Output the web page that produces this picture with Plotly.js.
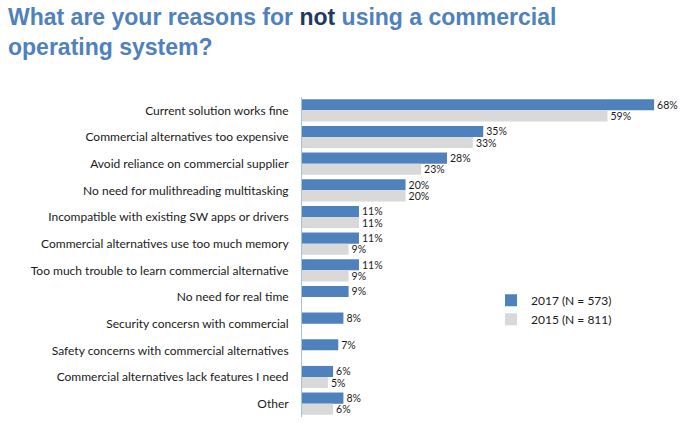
<!DOCTYPE html>
<html>
<head>
<meta charset="utf-8">
<script src="https://cdn.plot.ly/plotly-3.0.1.min.js"></script>
<style>html,body{margin:0;padding:0;background:#fff;}#chart{width:688px;height:428px;}</style>
</head>
<body>
<div id="chart"></div>
<script>
const categories = [
  "Current solution works fine",
  "Commercial alternatives too expensive",
  "Avoid reliance on commercial supplier",
  "No need for mulithreading multitasking",
  "Incompatible with existing SW apps or drivers",
  "Commercial alternatives use too much memory",
  "Too much trouble to learn commercial alternative",
  "No need for real time",
  "Security concersn with commercial",
  "Safety concerns with commercial alternatives",
  "Commercial alternatives lack features I need",
  "Other"
];
const values2017 = [68, 35, 28, 20, 11, 11, 11, 9, 8, 7, 6, 8];
const values2015 = [59, 33, 23, 20, 11, 9, 9, null, null, null, 5, 6];
const seriesNames = ["2017 (N = 573)", "2015 (N = 811)"];

const labelFont = {family: "Lato, 'Open Sans', sans-serif", size: 12, color: "#1a1a1a"};
const valueFont = {family: "Lato, 'Open Sans', sans-serif", size: 10.5, color: "#1a1a1a"};
function pct(arr){ return arr.map(v => v == null ? "" : v + "%"); }

const traces = [
  {type: "bar", orientation: "h", name: seriesNames[0], y: categories, x: values2017,
   marker: {color: "#4F81BD"}, text: pct(values2017), textposition: "outside",
   constraintext: "none", textfont: valueFont, cliponaxis: false, hoverinfo: "skip"},
  {type: "bar", orientation: "h", name: seriesNames[1], y: categories, x: values2015,
   marker: {color: "#D9D9D9"}, text: pct(values2015), textposition: "outside",
   constraintext: "none", textfont: valueFont, cliponaxis: false, hoverinfo: "skip"}
];

const layout = {
  width: 688, height: 428,
  margin: {l: 302, r: 8, t: 97, b: 11},
  paper_bgcolor: "#fff", plot_bgcolor: "#fff",
  barmode: "group", bargap: 0.17, bargroupgap: 0,
  title: {
    text: "What are your reasons for <span style='color:#1F3A60'>not</span> using a commercial<br>operating system?",
    font: {family: "'Liberation Sans', Arial, sans-serif", size: 23, color: "#4F81BD", weight: "bold"},
    x: 8 / 688, xref: "container", xanchor: "left",
    y: 0.942, yref: "container", yanchor: "top"
  },
  xaxis: {range: [0, 73], visible: false, fixedrange: true},
  yaxis: {autorange: "reversed", type: "category", showgrid: false, zeroline: false,
          showline: true, linecolor: "#9DC3E6", linewidth: 1, ticks: "",
          ticklen: 0, ticklabelstandoff: 10, tickfont: labelFont, fixedrange: true},
  showlegend: true,
  legend: {x: 0.50, y: 0.41, xanchor: "left", yanchor: "top", font: labelFont,
           tracegroupgap: 0, itemwidth: 30, bgcolor: "rgba(0,0,0,0)"},
  font: labelFont
};

Plotly.newPlot("chart", traces, layout, {displayModeBar: false, staticPlot: true});
</script>
</body>
</html>
